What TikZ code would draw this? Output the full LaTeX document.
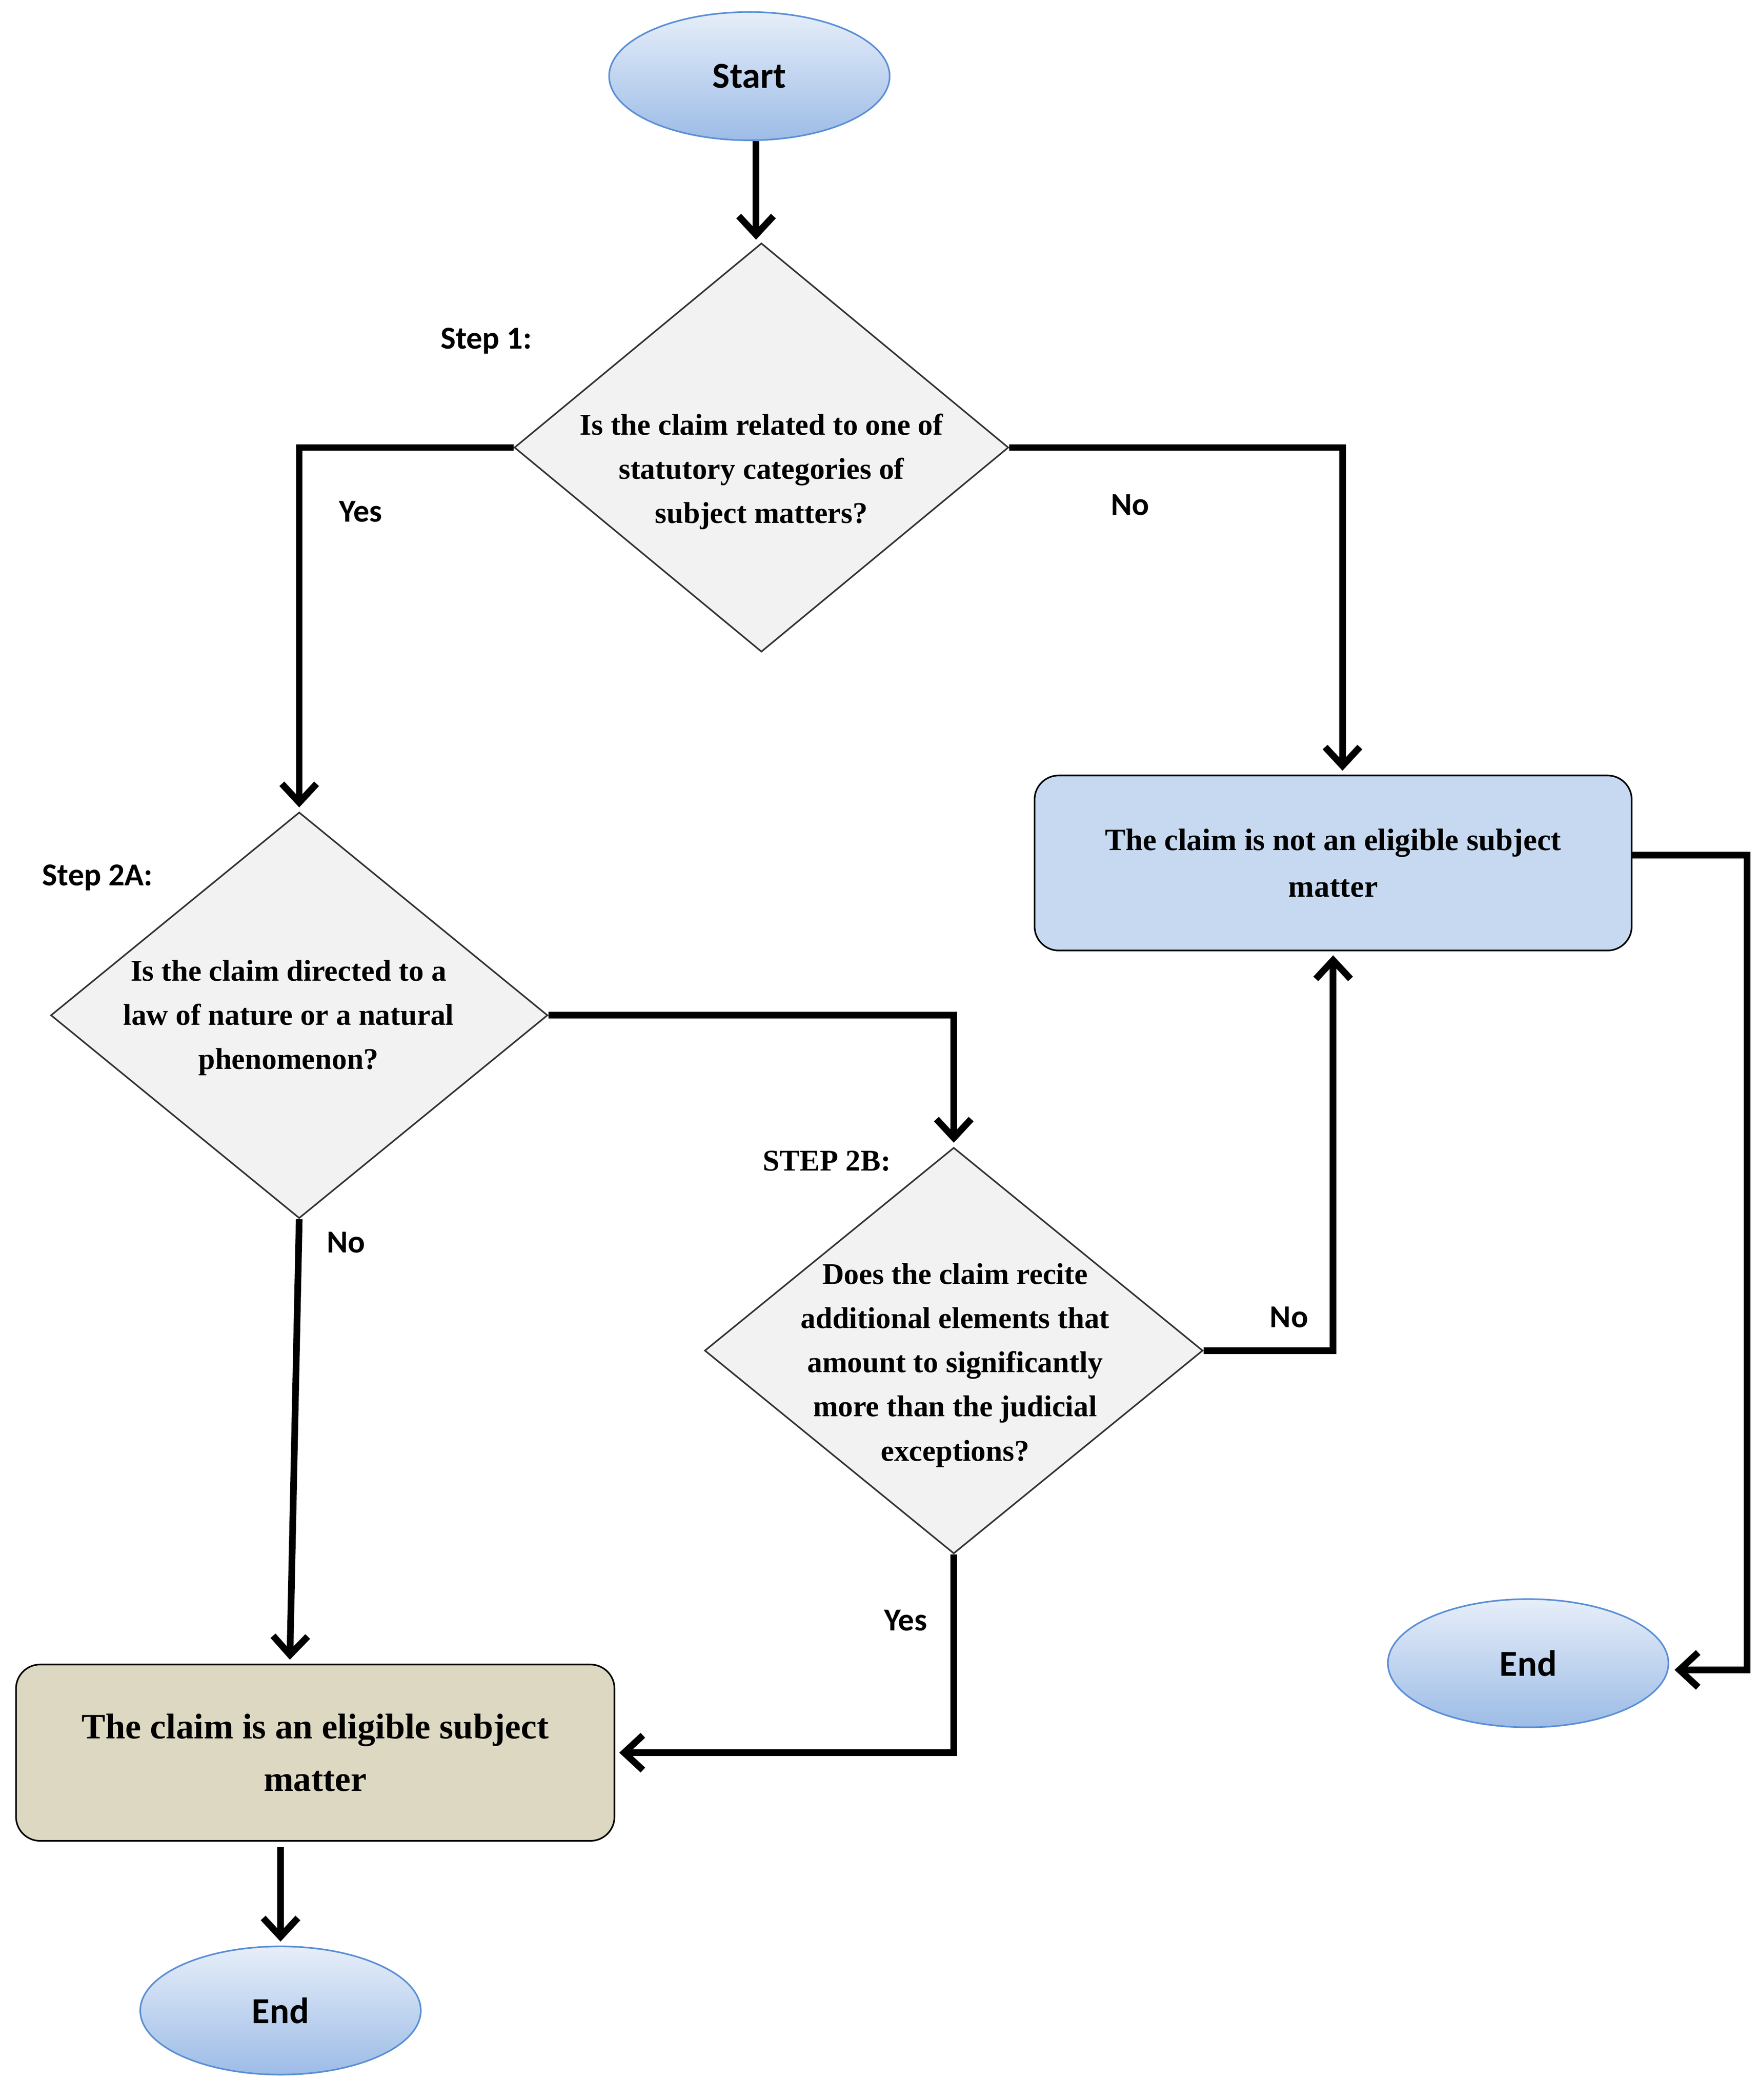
\documentclass[tikz,border=0pt]{standalone}
\usepackage{fontspec}
\setmainfont{Liberation Serif}
\newfontfamily\lbl{Carlito}
\usetikzlibrary{shapes.geometric,arrows.meta,calc}
\definecolor{ellb}{HTML}{5B8FD6}
\definecolor{box1}{HTML}{C6D9F0}
\definecolor{box2}{HTML}{DDD8C2}
\definecolor{dfill}{HTML}{F2F2F2}
\begin{document}
\begin{tikzpicture}[x=1mm,y=-1mm,
  term/.style={ellipse,draw=ellb,line width=1.2mm,minimum width=210mm,minimum height=96mm,top color=white!70!ellb!50,bottom color=ellb!60,font=\lbl\bfseries\fontsize{78}{90}\selectfont},
  dia/.style={diamond,draw=black!80,line width=1.2mm,fill=dfill,inner sep=0,minimum width=#1},
  dtext/.style={align=center,font=\bfseries\fontsize{64}{94}\selectfont},
  box/.style={draw=black,line width=1.2mm,rounded corners=18mm,align=center},
  lab/.style={font=\lbl\bfseries\fontsize{68}{80}\selectfont},
  arr/.style={line width=5mm,-{Straight Barb[length=14mm,width=26mm,line width=5mm]}},
]
\useasboundingbox (0,0) rectangle (1316,1572);
\node[term] (start) at (561,57) {Start};
\node[dia=370mm,minimum height=306mm] (d1) at (570,335) {};
\node[dtext] at (570,353) {Is the claim related to one of\\statutory categories of\\subject matters?};
\node[dia=372mm,minimum height=304mm] (d2) at (224,760) {};
\node[dtext] at (216,762) {Is the claim directed to a\\law of nature or a natural\\phenomenon?};
\node[dia=373mm,minimum height=304mm] (d3) at (714,1011) {};
\node[dtext] at (715,1022) {Does the claim recite\\additional elements that\\amount to significantly\\more than the judicial\\exceptions?};
\node[box,fill=box1,minimum width=447mm,minimum height=131mm,font=\bfseries\fontsize{66}{100}\selectfont] (b1) at (998,646) {The claim is not an eligible subject\\matter};
\node[box,fill=box2,minimum width=448mm,minimum height=132mm,font=\bfseries\fontsize{76}{112}\selectfont] (b2) at (236,1312) {The claim is an eligible subject\\matter};
\node[term] (end1) at (1144,1245) {End};
\node[term] (end2) at (210,1505) {End};
\node[lab] (s1) at (364,255) {Step 1:};
\node[lab] (s2a) at (73,657) {Step 2A:};
\node[font=\bfseries\fontsize{64}{80}\selectfont] (s2b) at (619,869) {STEP 2B:};
\node[lab] (y1) at (270,383) {Yes};
\node[lab] (n1) at (846,378) {No};
\node[lab] (n2) at (259,930) {No};
\node[lab] (n3) at (965,986) {No};
\node[lab] (y3) at (678,1213) {Yes};
\draw[arr] ($(start.south)+(5,0)$) -- ($(d1.north)+(-4,-2)$);
\draw[arr] (d1.west) -| ($(d2.north)+(0,-3)$);
\draw[arr] (d1.east) -| ($(b1.north)+(7,-3)$);
\draw[arr] (d2.east) -| ($(d3.north)+(0,-3)$);
\draw[arr] (d3.east) -| ($(b1.south)+(0,3)$);
\draw[arr] (d2.south) -- ($(b2.north)+(-19,-3)$);
\draw[arr] (d3.south) |- ($(b2.east)+(3,0)$);
\draw[arr] ($(b2.south)+(-26,4)$) -- ($(end2.north)+(0,-3)$);
\draw[arr] ($(b1.east)+(0,-6)$) -- (1308,640) |- ($(end1.east)+(4,5)$);
\end{tikzpicture}
\end{document}
